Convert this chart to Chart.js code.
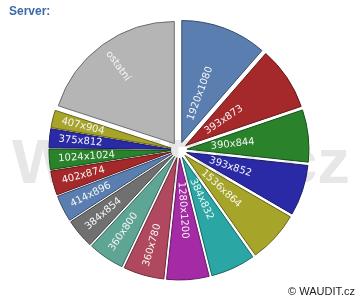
<!DOCTYPE html>
<html>
<head>
<meta charset="utf-8">
<script src="https://cdn.jsdelivr.net/npm/chart.js@4.4.1/dist/chart.umd.min.js"></script>
<style>
  html, body { margin: 0; padding: 0; background: #fff; }
  #wrap { position: relative; width: 360px; height: 300px; overflow: hidden; }
  #title { position: absolute; left: 9px; top: 5px; font: bold 12px "Liberation Sans"; line-height: 12px; color: #3a69a8; }
  #copy { position: absolute; right: 5px; top: 286px; font: 11px "Liberation Sans"; line-height: 11px; color: #222; }
  canvas { position: absolute; left: 0; top: 0; }
</style>
</head>
<body>
<div id="wrap">
  <canvas id="serverChart" width="360" height="300"></canvas>
  <div id="title">Server:</div>
  <div id="copy">© WAUDIT.cz</div>
</div>
<script>
// screen resolutions, share in %
const resolutions = ['1920x1080', '393x873', '390x844', '393x852', '1536x864', '384x832', '1280x1200',
  '360x780', '360x800', '384x854', '414x896', '402x874', '1024x1024', '375x812', '407x904', 'ostatní'];
const shares = [11.4, 8.4, 6.9, 6.7, 6.8, 5.9, 5.6, 5.4, 4.8, 3.9, 3.5, 3.2, 2.7, 2.5, 2.3, 20.0];

const sliceColors = ['#5a7eb0', '#a5282a', '#2a822a', '#2a2aa6', '#a6a52a', '#2aa6a5', '#a52aa6',
  '#b0485f', '#5ea596', '#707070', '#5a7eb0', '#a5282a', '#2a822a', '#2a2aa6', '#a6a52a', '#b5b5b5'];

const darker = (hex) => {
  const n = parseInt(hex.slice(1), 16);
  const f = (v) => Math.round(v * 0.6);
  return `rgb(${f(n >> 16)}, ${f((n >> 8) & 255)}, ${f(n & 255)})`;
};

// every slice pushed out by the same distance
const SHIFT = 8;

// faint watermark behind the pie
const watermark = {
  id: 'watermark',
  beforeDatasetsDraw(chart) {
    const ctx = chart.ctx;
    ctx.save();
    ctx.font = 'bold 63px "Liberation Sans"';
    ctx.fillStyle = '#e7e7e7';
    ctx.textBaseline = 'alphabetic';
    const w = ctx.measureText('WAUDIT.cz').width;
    ctx.translate(12, 183);
    ctx.scale(338 / w, 1);
    ctx.fillText('WAUDIT.cz', 0, 0);
    ctx.restore();
  }
};

// draw the arcs exploded (chart.js offset scales small slices differently)
const exploded = {
  id: 'exploded',
  beforeDatasetDraw(chart, args) {
    const ctx = chart.ctx;
    args.meta.data.forEach(arc => {
      const p = arc.getProps(['startAngle', 'endAngle'], true);
      const a = (p.startAngle + p.endAngle) / 2;
      ctx.save();
      ctx.translate(Math.cos(a) * SHIFT, Math.sin(a) * SHIFT);
      arc.draw(ctx);
      ctx.restore();
    });
    return false;
  }
};

// labels written along each slice
const sliceLabels = {
  id: 'sliceLabels',
  afterDatasetsDraw(chart) {
    const ctx = chart.ctx;
    const meta = chart.getDatasetMeta(0);
    ctx.save();
    ctx.font = '10px "DejaVu Sans"';
    ctx.fillStyle = '#f6f6f6';
    ctx.textBaseline = 'middle';
    ctx.textAlign = 'left';
    meta.data.forEach((arc, i) => {
      const p = arc.getProps(['x', 'y', 'startAngle', 'endAngle', 'outerRadius'], true);
      const a = (p.startAngle + p.endAngle) / 2;
      ctx.save();
      ctx.translate(p.x, p.y);
      if (Math.cos(a) >= 0) {
        ctx.rotate(a);
        ctx.fillText(resolutions[i], SHIFT + 24, 0);
      } else {
        ctx.rotate(a + Math.PI);
        ctx.fillText(resolutions[i], -(p.outerRadius + SHIFT - 9), 0);
      }
      ctx.restore();
    });
    ctx.restore();
  }
};

new Chart(document.getElementById('serverChart'), {
  type: 'pie',
  data: {
    labels: resolutions,
    datasets: [{
      data: shares,
      backgroundColor: sliceColors,
      borderColor: sliceColors.map(darker),
      borderWidth: 1,
      offset: 0,
      hoverOffset: 0
    }]
  },
  options: {
    responsive: false,
    animation: false,
    layout: { padding: { top: 27.5, bottom: 27.5, left: 20, right: 22 } },
    plugins: {
      legend: { display: false },
      tooltip: { enabled: false }
    }
  },
  plugins: [watermark, exploded, sliceLabels]
});
</script>
</body>
</html>
